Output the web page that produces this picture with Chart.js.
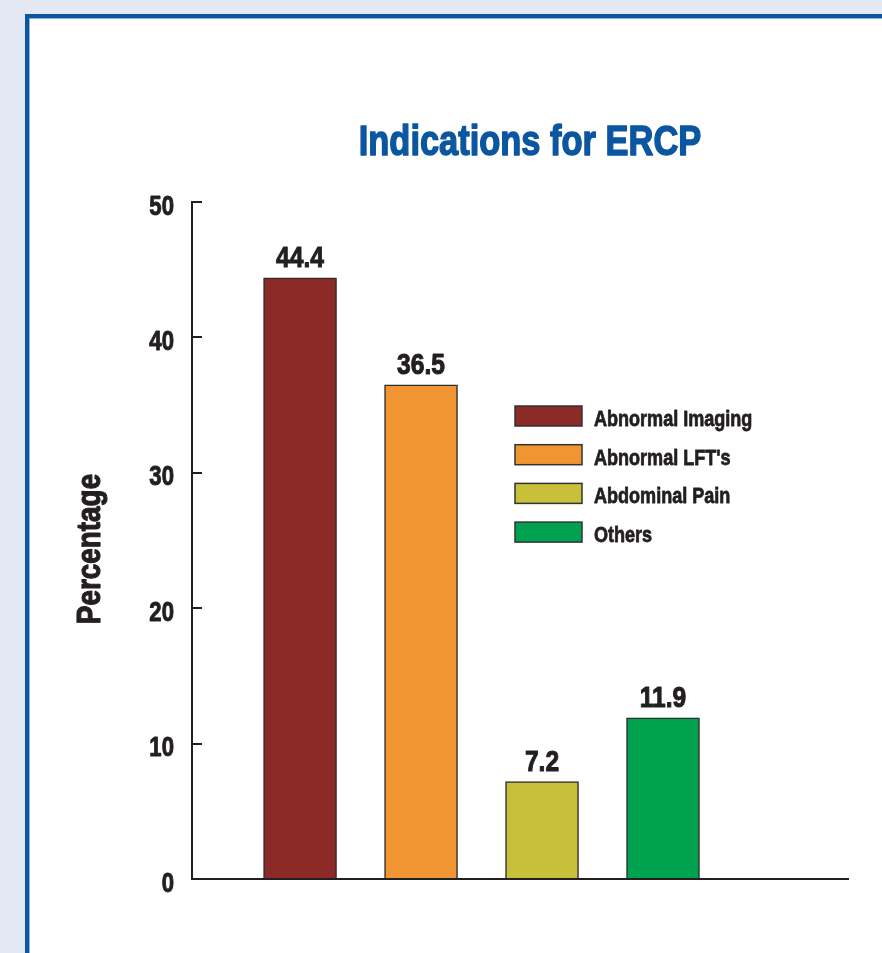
<!DOCTYPE html>
<html>
<head>
<meta charset="utf-8">
<script src="https://cdn.jsdelivr.net/npm/chart.js@4.4.1/dist/chart.umd.min.js"></script>
<style>
  html, body { margin: 0; padding: 0; width: 882px; height: 953px; overflow: hidden; background: #e4e8f2; }
  #frame { position: absolute; left: 25px; top: 14px; width: 900px; height: 1000px; background: #fff; border: 4px solid #0b56a0; box-shadow: inset 1px 1px 0 #8fb2d8; }
  #wrap { position: absolute; left: 0; top: 0; width: 882px; height: 953px; }
</style>
</head>
<body>
<div id="frame"></div>
<div id="wrap"><canvas id="c" width="882" height="953"></canvas></div>
<script>
const chartTitle = 'Indications for ERCP';
const yAxisTitle = 'Percentage';
const categories = ['Abnormal Imaging', "Abnormal LFT's", 'Abdominal Pain', 'Others'];
const values = [44.4, 36.5, 7.2, 11.9];
const barColors = ['#8b2a26', '#f09532', '#c9c03a', '#00a14f'];
const yTicks = [0, 10, 20, 30, 40, 50];

const FONT = '"Liberation Sans", Arial, sans-serif';
const NARROW = 0.82;
const INK = '#231f20';

function narrowText(ctx, text, x, y, size, align, color, baseline) {
  ctx.save();
  ctx.translate(x, y);
  ctx.scale(NARROW, 1);
  ctx.font = 'bold ' + size + 'px ' + FONT;
  ctx.fillStyle = color;
  ctx.strokeStyle = color;
  ctx.lineWidth = size * 0.035;
  ctx.lineJoin = 'round';
  ctx.textAlign = align;
  ctx.textBaseline = baseline || 'alphabetic';
  ctx.fillText(text, 0, 0);
  ctx.strokeText(text, 0, 0);
  ctx.restore();
}

const textPlugin = {
  id: 'textPlugin',
  afterDraw(chart) {
    const ctx = chart.ctx;
    const yScale = chart.scales.y;
    ctx.save();
    // title
    narrowText(ctx, chartTitle, 530, 155, 42, 'center', '#0b56a0');
    // y tick labels
    yScale.ticks.forEach(t => {
      narrowText(ctx, String(t.value), 174, yScale.getPixelForValue(t.value) + 12.5, 27, 'right', INK);
    });
    // y axis title
    ctx.save();
    ctx.translate(99.5, 549);
    ctx.rotate(-Math.PI / 2);
    narrowText(ctx, yAxisTitle, 0, 0, 34, 'center', INK);
    ctx.restore();
    // value labels
    const meta = chart.getDatasetMeta(0);
    meta.data.forEach((bar, i) => {
      narrowText(ctx, values[i].toFixed(1), bar.x, bar.y - 10.7, 30, 'center', INK);
    });
    // legend
    categories.forEach((name, i) => {
      const y = 406 + i * 38.7;
      ctx.fillStyle = barColors[i];
      ctx.fillRect(515, y, 67, 20);
      ctx.strokeStyle = '#333';
      ctx.lineWidth = 1.5;
      ctx.strokeRect(515, y, 67, 20);
      narrowText(ctx, name, 594, y + 20, 22, 'left', INK);
    });
    ctx.restore();
  }
};

new Chart(document.getElementById('c'), {
  type: 'bar',
  data: {
    datasets: [{
      label: 'Indications',
      data: values.map((v, i) => ({ x: i + 1, y: v })),
      backgroundColor: barColors,
      borderColor: '#2e2e2e',
      borderWidth: 1.5,
      barThickness: 73
    }]
  },
  options: {
    responsive: false,
    animation: false,
    events: [],
    layout: { padding: { top: 202, right: 34, bottom: 74, left: 0 } },
    plugins: { legend: { display: false }, title: { display: false }, tooltip: { enabled: false } },
    scales: {
      x: {
        type: 'linear',
        offset: false,
        min: 0.107,
        max: 5.529,
        grid: { display: true, drawOnChartArea: false, drawTicks: false },
        ticks: { display: false },
        border: { display: true, color: INK, width: 2 },
        afterFit(scale) { scale.height = 0; }
      },
      y: {
        min: 0,
        max: 50,
        afterBuildTicks(scale) { scale.ticks = yTicks.map(v => ({ value: v })); },
        grid: { display: true, drawOnChartArea: false, drawTicks: true, tickLength: -10, color: INK, lineWidth: 2 },
        border: { display: true, color: INK, width: 2 },
        ticks: { display: false },
        afterFit(scale) { scale.width = 192; }
      }
    }
  },
  plugins: [textPlugin]
});
</script>
</body>
</html>
